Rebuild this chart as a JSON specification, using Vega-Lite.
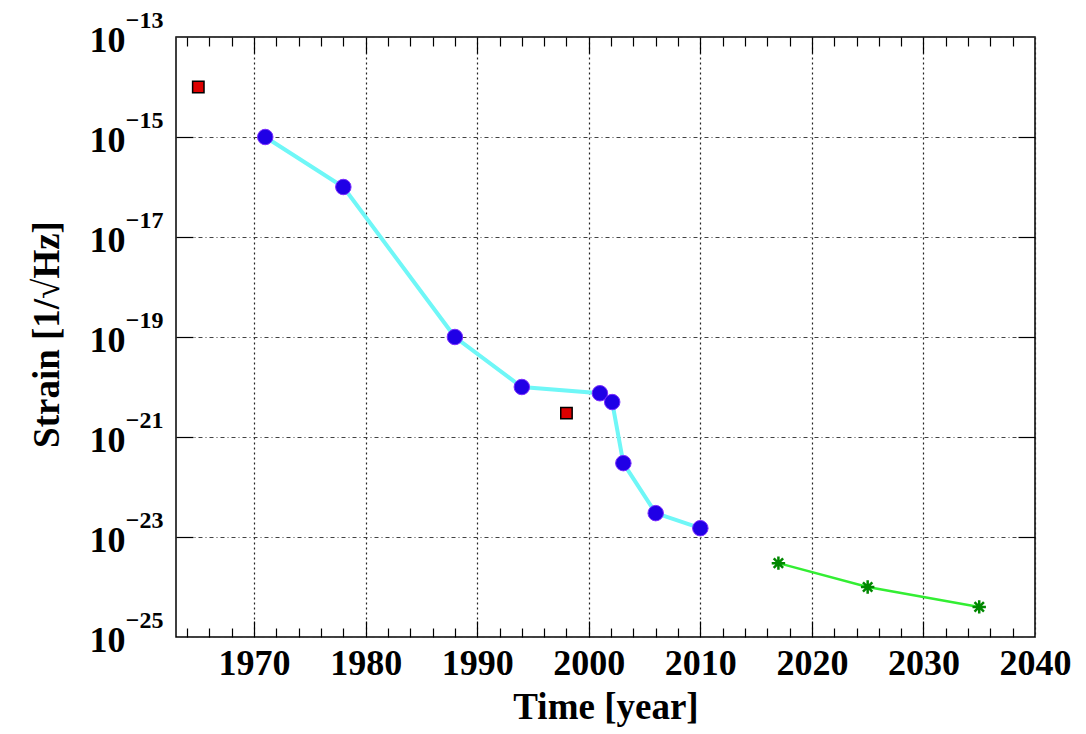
{
  "$schema": "https://vega.github.io/schema/vega-lite/v6.json",
  "width": 859,
  "height": 600,
  "autosize": "none",
  "padding": {"left": 176, "top": 37, "right": 51, "bottom": 97},
  "background": "white",
  "config": {
    "view": {"stroke": "black", "strokeWidth": 1.5},
    "axis": {
      "domain": false,
      "labelFont": "Liberation Serif",
      "labelFontWeight": "bold",
      "labelColor": "black",
      "titleFont": "Liberation Serif",
      "titleFontWeight": "bold",
      "titleColor": "black",
      "labelFlush": false,
      "labelOverlap": false,
      "labelBound": false,
      "tickColor": "black",
      "tickWidth": 1.2
    }
  },
  "datasets": {
    "blue": [
      {"year": 1971, "strain": 1e-15},
      {"year": 1978, "strain": 1e-16},
      {"year": 1988, "strain": 1e-19},
      {"year": 1994, "strain": 1e-20},
      {"year": 2001, "strain": 7.5e-21},
      {"year": 2002.1, "strain": 5e-21},
      {"year": 2003.1, "strain": 3e-22},
      {"year": 2006, "strain": 3e-23},
      {"year": 2010, "strain": 1.5e-23}
    ],
    "red": [
      {"year": 1965, "strain": 1e-14},
      {"year": 1998, "strain": 3e-21}
    ],
    "green": [
      {"year": 2017, "strain": 3e-24},
      {"year": 2025, "strain": 1e-24},
      {"year": 2035, "strain": 4e-25}
    ]
  },
  "resolve": {
    "scale": {"x": "shared", "y": "shared"},
    "axis": {"x": "independent", "y": "independent"}
  },
  "layer": [
    {
      "data": {"name": "blue"},
      "mark": {"type": "line", "color": "#6ff7f7", "strokeWidth": 4},
      "encoding": {
        "x": {
          "field": "year", "type": "quantitative",
          "scale": {"domain": [1963, 2040], "nice": false, "zero": false},
          "axis": {
            "orient": "bottom",
            "values": [1970, 1980, 1990, 2000, 2010, 2020, 2030, 2040],
            "format": "d",
            "ticks": false,
            "labelFontSize": 36,
            "labelBaseline": "top",
            "labelPadding": 9,
            "grid": true,
            "gridColor": "#222",
            "gridDash": [2, 3],
            "gridWidth": 1.2,
            "gridOpacity": 1,
            "title": "Time [year]",
            "titleFontSize": 37,
            "titleBaseline": "alphabetic",
            "titleY": 81
          }
        },
        "y": {
          "field": "strain", "type": "quantitative",
          "scale": {"type": "log", "domain": [1e-25, 1e-13], "nice": false},
          "axis": {
            "orient": "left",
            "values": [1e-25, 1e-23, 1e-21, 1e-19, 1e-17, 1e-15, 1e-13],
            "labelExpr": "'10'",
            "ticks": false,
            "labelFontSize": 36,
            "labelBaseline": "middle",
            "labelPadding": 51,
            "labelOffset": 3,
            "grid": true,
            "gridColor": "#444",
            "gridDash": [4, 3, 1, 3],
            "gridWidth": 1,
            "gridOpacity": 1,
            "title": "Strain [1/√Hz]",
            "titleFontSize": 37,
            "titleAngle": -90,
            "titleBaseline": "alphabetic",
            "titleAlign": "center",
            "titleX": -118,
            "titleY": 297
          }
        }
      }
    },
    {
      "data": {"name": "blue"},
      "mark": {"type": "point", "shape": "circle", "filled": true, "fill": "#2000e6", "stroke": "#7a2cff", "strokeWidth": 1, "size": 240, "opacity": 1},
      "encoding": {
        "x": {
          "field": "year", "type": "quantitative",
          "axis": {
            "orient": "bottom",
            "values": [1970, 1980, 1990, 2000, 2010, 2020, 2030],
            "labels": false, "grid": false, "title": null,
            "tickSize": -16
          }
        },
        "y": {
          "field": "strain", "type": "quantitative",
          "axis": {
            "orient": "left",
            "values": [1e-25, 1e-23, 1e-21, 1e-19, 1e-17, 1e-15, 1e-13],
            "labelExpr": "'−' + abs(round(log(datum.value) / LN10))",
            "ticks": false,
            "grid": false,
            "labelFontSize": 24,
            "labelBaseline": "middle",
            "labelPadding": 13,
            "labelOffset": -17,
            "title": null
          }
        }
      }
    },
    {
      "data": {"name": "red"},
      "mark": {"type": "point", "shape": "square", "filled": true, "fill": "#dd0000", "stroke": "black", "strokeWidth": 1.5, "size": 130, "opacity": 1},
      "encoding": {
        "x": {
          "field": "year", "type": "quantitative",
          "axis": {
            "orient": "bottom",
            "values": [1964, 1966, 1968, 1972, 1974, 1976, 1978, 1982, 1984, 1986, 1988, 1992, 1994, 1996, 1998, 2002, 2004, 2006, 2008, 2012, 2014, 2016, 2018, 2022, 2024, 2026, 2028, 2032, 2034, 2036, 2038],
            "labels": false, "grid": false, "title": null,
            "tickSize": -9
          }
        },
        "y": {
          "field": "strain", "type": "quantitative",
          "axis": {
            "orient": "left",
            "values": [1e-23, 1e-21, 1e-19, 1e-17, 1e-15],
            "labels": false, "grid": false, "title": null,
            "tickSize": -17
          }
        }
      }
    },
    {
      "data": {"name": "green"},
      "mark": {"type": "line", "color": "#33ee33", "strokeWidth": 2.5},
      "encoding": {
        "x": {
          "field": "year", "type": "quantitative",
          "axis": {
            "orient": "top",
            "values": [1970, 1980, 1990, 2000, 2010, 2020, 2030],
            "labels": false, "grid": false, "title": null,
            "tickSize": -16
          }
        },
        "y": {
          "field": "strain", "type": "quantitative",
          "axis": {
            "orient": "right",
            "values": [1e-23, 1e-21, 1e-19, 1e-17, 1e-15],
            "labels": false, "grid": false, "title": null,
            "tickSize": -17
          }
        }
      }
    },
    {
      "data": {"name": "green"},
      "mark": {"type": "point", "shape": "M-1,0L1,0M0,-1L0,1M-0.7,-0.7L0.7,0.7M-0.7,0.7L0.7,-0.7", "filled": false, "stroke": "#008800", "strokeWidth": 2.5, "size": 180, "opacity": 1},
      "encoding": {
        "x": {
          "field": "year", "type": "quantitative",
          "axis": {
            "orient": "top",
            "values": [1964, 1966, 1968, 1972, 1974, 1976, 1978, 1982, 1984, 1986, 1988, 1992, 1994, 1996, 1998, 2002, 2004, 2006, 2008, 2012, 2014, 2016, 2018, 2022, 2024, 2026, 2028, 2032, 2034, 2036, 2038],
            "labels": false, "grid": false, "title": null,
            "tickSize": -9
          }
        },
        "y": {
          "field": "strain", "type": "quantitative",
          "axis": null
        }
      }
    }
  ]
}
